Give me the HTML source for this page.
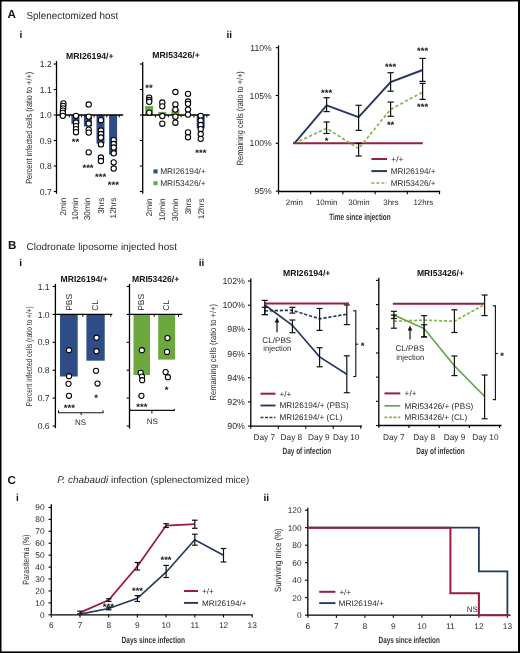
<!DOCTYPE html>
<html><head><meta charset="utf-8"><title>Figure</title>
<style>
html,body{margin:0;padding:0;background:#fff;}
svg{display:block;will-change:transform;}
text{font-family:"Liberation Sans",sans-serif;text-rendering:geometricPrecision;}
</style></head>
<body>
<svg width="520" height="653" viewBox="0 0 520 653" fill="#2a2a2a">
<rect x="0" y="0" width="520" height="653" fill="#fff"/>
<text x="7.60" y="17.60" font-size="11.6" font-weight="bold" fill="#111">A</text>
<text x="26.50" y="19.20" font-size="10.2" textLength="91.80" lengthAdjust="spacingAndGlyphs">Splenectomized host</text>
<text x="19.40" y="37.90" font-size="10" font-weight="bold" fill="#111">i</text>
<text x="89.80" y="58.60" font-size="8.7" font-weight="bold" text-anchor="middle" textLength="47.50" lengthAdjust="spacingAndGlyphs" fill="#111">MRI26194/+</text>
<line x1="56.50" y1="61.00" x2="56.50" y2="193.80" stroke="#000" stroke-width="1.3" stroke-linecap="butt"/>
<line x1="53.70" y1="64.00" x2="56.50" y2="64.00" stroke="#000" stroke-width="1.1" stroke-linecap="butt"/>
<text x="51.80" y="67.10" font-size="8.6" text-anchor="end">1.2</text>
<line x1="53.70" y1="89.50" x2="56.50" y2="89.50" stroke="#000" stroke-width="1.1" stroke-linecap="butt"/>
<text x="51.80" y="92.60" font-size="8.6" text-anchor="end">1.1</text>
<line x1="53.70" y1="115.00" x2="56.50" y2="115.00" stroke="#000" stroke-width="1.1" stroke-linecap="butt"/>
<text x="51.80" y="118.10" font-size="8.6" text-anchor="end">1.0</text>
<line x1="53.70" y1="140.50" x2="56.50" y2="140.50" stroke="#000" stroke-width="1.1" stroke-linecap="butt"/>
<text x="51.80" y="143.60" font-size="8.6" text-anchor="end">0.9</text>
<line x1="53.70" y1="166.00" x2="56.50" y2="166.00" stroke="#000" stroke-width="1.1" stroke-linecap="butt"/>
<text x="51.80" y="169.10" font-size="8.6" text-anchor="end">0.8</text>
<line x1="53.70" y1="191.50" x2="56.50" y2="191.50" stroke="#000" stroke-width="1.1" stroke-linecap="butt"/>
<text x="51.80" y="194.60" font-size="8.6" text-anchor="end">0.7</text>
<text transform="translate(32.00 127.80) rotate(-90)" font-size="9.0" text-anchor="middle" textLength="112.00" lengthAdjust="spacingAndGlyphs">Percent infected cells (ratio to +/+)</text>
<rect x="59.20" y="115.00" width="8.00" height="0.00" fill="#2e4c85"/>
<rect x="71.40" y="115.00" width="8.00" height="8.93" fill="#2e4c85"/>
<rect x="83.90" y="115.00" width="8.00" height="11.48" fill="#2e4c85"/>
<rect x="96.50" y="115.00" width="8.00" height="28.56" fill="#2e4c85"/>
<rect x="109.10" y="115.00" width="8.00" height="39.53" fill="#2e4c85"/>
<line x1="56.50" y1="115.00" x2="123.20" y2="115.00" stroke="#000" stroke-width="1.3" stroke-linecap="butt"/>
<line x1="69.30" y1="115.00" x2="69.30" y2="117.40" stroke="#000" stroke-width="1.0" stroke-linecap="butt"/>
<line x1="81.60" y1="115.00" x2="81.60" y2="117.40" stroke="#000" stroke-width="1.0" stroke-linecap="butt"/>
<line x1="94.20" y1="115.00" x2="94.20" y2="117.40" stroke="#000" stroke-width="1.0" stroke-linecap="butt"/>
<line x1="106.80" y1="115.00" x2="106.80" y2="117.40" stroke="#000" stroke-width="1.0" stroke-linecap="butt"/>
<line x1="119.30" y1="115.00" x2="119.30" y2="117.40" stroke="#000" stroke-width="1.0" stroke-linecap="butt"/>
<circle cx="63.40" cy="103.40" r="2.65" fill="#fff" stroke="#000" stroke-width="1.05"/>
<circle cx="63.20" cy="105.80" r="2.65" fill="#fff" stroke="#000" stroke-width="1.05"/>
<circle cx="63.20" cy="108.40" r="2.65" fill="#fff" stroke="#000" stroke-width="1.05"/>
<circle cx="62.90" cy="110.60" r="2.65" fill="#fff" stroke="#000" stroke-width="1.05"/>
<circle cx="62.80" cy="112.80" r="2.65" fill="#fff" stroke="#000" stroke-width="1.05"/>
<circle cx="62.80" cy="115.80" r="2.65" fill="#fff" stroke="#000" stroke-width="1.05"/>
<circle cx="76.00" cy="115.80" r="2.65" fill="#fff" stroke="#000" stroke-width="1.05"/>
<circle cx="76.00" cy="122.70" r="2.65" fill="#fff" stroke="#000" stroke-width="1.05"/>
<circle cx="76.00" cy="126.10" r="2.65" fill="#fff" stroke="#000" stroke-width="1.05"/>
<circle cx="76.00" cy="129.20" r="2.65" fill="#fff" stroke="#000" stroke-width="1.05"/>
<circle cx="76.00" cy="132.20" r="2.65" fill="#fff" stroke="#000" stroke-width="1.05"/>
<circle cx="88.70" cy="104.50" r="2.65" fill="#fff" stroke="#000" stroke-width="1.05"/>
<circle cx="88.70" cy="116.60" r="2.65" fill="#fff" stroke="#000" stroke-width="1.05"/>
<circle cx="88.70" cy="123.50" r="2.65" fill="#fff" stroke="#000" stroke-width="1.05"/>
<circle cx="88.70" cy="129.60" r="2.65" fill="#fff" stroke="#000" stroke-width="1.05"/>
<circle cx="88.70" cy="132.60" r="2.65" fill="#fff" stroke="#000" stroke-width="1.05"/>
<circle cx="88.70" cy="152.30" r="2.65" fill="#fff" stroke="#000" stroke-width="1.05"/>
<circle cx="100.90" cy="120.20" r="2.65" fill="#fff" stroke="#000" stroke-width="1.05"/>
<circle cx="100.90" cy="130.50" r="2.65" fill="#fff" stroke="#000" stroke-width="1.05"/>
<circle cx="100.90" cy="134.00" r="2.65" fill="#fff" stroke="#000" stroke-width="1.05"/>
<circle cx="100.90" cy="137.50" r="2.65" fill="#fff" stroke="#000" stroke-width="1.05"/>
<circle cx="100.90" cy="144.40" r="2.65" fill="#fff" stroke="#000" stroke-width="1.05"/>
<circle cx="100.90" cy="157.50" r="2.65" fill="#fff" stroke="#000" stroke-width="1.05"/>
<circle cx="100.90" cy="161.00" r="2.65" fill="#fff" stroke="#000" stroke-width="1.05"/>
<circle cx="113.70" cy="140.20" r="2.65" fill="#fff" stroke="#000" stroke-width="1.05"/>
<circle cx="113.70" cy="144.00" r="2.65" fill="#fff" stroke="#000" stroke-width="1.05"/>
<circle cx="113.70" cy="147.50" r="2.65" fill="#fff" stroke="#000" stroke-width="1.05"/>
<circle cx="113.70" cy="153.30" r="2.65" fill="#fff" stroke="#000" stroke-width="1.05"/>
<circle cx="113.70" cy="162.30" r="2.65" fill="#fff" stroke="#000" stroke-width="1.05"/>
<circle cx="113.70" cy="168.50" r="2.65" fill="#fff" stroke="#000" stroke-width="1.05"/>
<text x="75.50" y="145.42" font-size="9.5" font-weight="bold" text-anchor="middle" fill="#111">**</text>
<text x="88.00" y="170.82" font-size="9.5" font-weight="bold" text-anchor="middle" fill="#111">***</text>
<text x="100.60" y="179.82" font-size="9.5" font-weight="bold" text-anchor="middle" fill="#111">***</text>
<text x="113.30" y="187.72" font-size="9.5" font-weight="bold" text-anchor="middle" fill="#111">***</text>
<text transform="translate(66.40 197.50) rotate(-90)" font-size="8.4" text-anchor="end">2min</text>
<text transform="translate(78.30 197.50) rotate(-90)" font-size="8.4" text-anchor="end">10min</text>
<text transform="translate(90.40 197.50) rotate(-90)" font-size="8.4" text-anchor="end">30min</text>
<text transform="translate(103.60 197.50) rotate(-90)" font-size="8.4" text-anchor="end">3hrs</text>
<text transform="translate(116.00 197.50) rotate(-90)" font-size="8.4" text-anchor="end">12hrs</text>
<text x="176.00" y="58.40" font-size="8.7" font-weight="bold" text-anchor="middle" textLength="47.50" lengthAdjust="spacingAndGlyphs" fill="#111">MRI53426/+</text>
<line x1="142.70" y1="62.00" x2="142.70" y2="193.70" stroke="#000" stroke-width="1.3" stroke-linecap="butt"/>
<line x1="139.90" y1="64.00" x2="142.70" y2="64.00" stroke="#000" stroke-width="1.1" stroke-linecap="butt"/>
<line x1="139.90" y1="89.50" x2="142.70" y2="89.50" stroke="#000" stroke-width="1.1" stroke-linecap="butt"/>
<line x1="139.90" y1="115.00" x2="142.70" y2="115.00" stroke="#000" stroke-width="1.1" stroke-linecap="butt"/>
<line x1="139.90" y1="140.50" x2="142.70" y2="140.50" stroke="#000" stroke-width="1.1" stroke-linecap="butt"/>
<line x1="139.90" y1="166.00" x2="142.70" y2="166.00" stroke="#000" stroke-width="1.1" stroke-linecap="butt"/>
<line x1="139.90" y1="191.50" x2="142.70" y2="191.50" stroke="#000" stroke-width="1.1" stroke-linecap="butt"/>
<rect x="145.20" y="106.08" width="8.00" height="8.92" fill="#6ca83e"/>
<rect x="158.30" y="111.94" width="8.00" height="3.06" fill="#6ca83e"/>
<rect x="171.40" y="109.14" width="8.00" height="5.86" fill="#6ca83e"/>
<rect x="196.70" y="115.00" width="8.00" height="13.26" fill="#2e4c85"/>
<line x1="142.70" y1="115.00" x2="209.60" y2="115.00" stroke="#000" stroke-width="1.3" stroke-linecap="butt"/>
<line x1="155.40" y1="115.00" x2="155.40" y2="117.40" stroke="#000" stroke-width="1.0" stroke-linecap="butt"/>
<line x1="168.30" y1="115.00" x2="168.30" y2="117.40" stroke="#000" stroke-width="1.0" stroke-linecap="butt"/>
<line x1="181.10" y1="115.00" x2="181.10" y2="117.40" stroke="#000" stroke-width="1.0" stroke-linecap="butt"/>
<line x1="193.90" y1="115.00" x2="193.90" y2="117.40" stroke="#000" stroke-width="1.0" stroke-linecap="butt"/>
<line x1="206.80" y1="115.00" x2="206.80" y2="117.40" stroke="#000" stroke-width="1.0" stroke-linecap="butt"/>
<circle cx="149.20" cy="97.70" r="2.65" fill="#fff" stroke="#000" stroke-width="1.05"/>
<circle cx="149.20" cy="100.00" r="2.65" fill="#fff" stroke="#000" stroke-width="1.05"/>
<circle cx="149.20" cy="101.80" r="2.65" fill="#fff" stroke="#000" stroke-width="1.05"/>
<circle cx="149.20" cy="112.70" r="2.65" fill="#fff" stroke="#000" stroke-width="1.05"/>
<circle cx="162.30" cy="102.50" r="2.65" fill="#fff" stroke="#000" stroke-width="1.05"/>
<circle cx="162.30" cy="106.30" r="2.65" fill="#fff" stroke="#000" stroke-width="1.05"/>
<circle cx="162.30" cy="116.00" r="2.65" fill="#fff" stroke="#000" stroke-width="1.05"/>
<circle cx="162.30" cy="123.70" r="2.65" fill="#fff" stroke="#000" stroke-width="1.05"/>
<circle cx="175.40" cy="92.00" r="2.65" fill="#fff" stroke="#000" stroke-width="1.05"/>
<circle cx="175.40" cy="104.40" r="2.65" fill="#fff" stroke="#000" stroke-width="1.05"/>
<circle cx="175.40" cy="109.60" r="2.65" fill="#fff" stroke="#000" stroke-width="1.05"/>
<circle cx="175.40" cy="116.70" r="2.65" fill="#fff" stroke="#000" stroke-width="1.05"/>
<circle cx="175.40" cy="122.70" r="2.65" fill="#fff" stroke="#000" stroke-width="1.05"/>
<circle cx="188.00" cy="93.80" r="2.65" fill="#fff" stroke="#000" stroke-width="1.05"/>
<circle cx="188.00" cy="101.50" r="2.65" fill="#fff" stroke="#000" stroke-width="1.05"/>
<circle cx="188.00" cy="103.80" r="2.65" fill="#fff" stroke="#000" stroke-width="1.05"/>
<circle cx="188.00" cy="109.60" r="2.65" fill="#fff" stroke="#000" stroke-width="1.05"/>
<circle cx="188.00" cy="114.60" r="2.65" fill="#fff" stroke="#000" stroke-width="1.05"/>
<circle cx="188.00" cy="132.30" r="2.65" fill="#fff" stroke="#000" stroke-width="1.05"/>
<circle cx="188.00" cy="137.30" r="2.65" fill="#fff" stroke="#000" stroke-width="1.05"/>
<circle cx="200.70" cy="115.80" r="2.65" fill="#fff" stroke="#000" stroke-width="1.05"/>
<circle cx="200.70" cy="120.60" r="2.65" fill="#fff" stroke="#000" stroke-width="1.05"/>
<circle cx="200.70" cy="125.00" r="2.65" fill="#fff" stroke="#000" stroke-width="1.05"/>
<circle cx="200.70" cy="129.20" r="2.65" fill="#fff" stroke="#000" stroke-width="1.05"/>
<circle cx="200.70" cy="134.00" r="2.65" fill="#fff" stroke="#000" stroke-width="1.05"/>
<circle cx="200.70" cy="138.80" r="2.65" fill="#fff" stroke="#000" stroke-width="1.05"/>
<text x="149.00" y="91.42" font-size="9.5" font-weight="bold" text-anchor="middle" fill="#111">**</text>
<text x="200.80" y="156.03" font-size="9.5" font-weight="bold" text-anchor="middle" fill="#111">***</text>
<rect x="153.40" y="169.40" width="4.20" height="4.00" fill="#2e4c85"/>
<text x="160.20" y="174.00" font-size="8.3" textLength="45.50" lengthAdjust="spacingAndGlyphs">MRI26194/+</text>
<rect x="153.40" y="181.20" width="4.20" height="4.00" fill="#6ca83e"/>
<text x="160.20" y="185.80" font-size="8.3" textLength="45.50" lengthAdjust="spacingAndGlyphs">MRI53426/+</text>
<text transform="translate(152.20 198.30) rotate(-90)" font-size="8.4" text-anchor="end">2min</text>
<text transform="translate(165.30 198.30) rotate(-90)" font-size="8.4" text-anchor="end">10min</text>
<text transform="translate(178.40 198.30) rotate(-90)" font-size="8.4" text-anchor="end">30min</text>
<text transform="translate(191.00 198.30) rotate(-90)" font-size="8.4" text-anchor="end">3hrs</text>
<text transform="translate(203.70 198.30) rotate(-90)" font-size="8.4" text-anchor="end">12hrs</text>
<text x="226.60" y="38.00" font-size="10" font-weight="bold" fill="#111">ii</text>
<line x1="278.50" y1="45.40" x2="278.50" y2="191.50" stroke="#000" stroke-width="1.3" stroke-linecap="butt"/>
<line x1="275.70" y1="47.70" x2="278.50" y2="47.70" stroke="#000" stroke-width="1.1" stroke-linecap="butt"/>
<text x="271.60" y="50.70" font-size="8.6" text-anchor="end">110%</text>
<line x1="275.70" y1="95.50" x2="278.50" y2="95.50" stroke="#000" stroke-width="1.1" stroke-linecap="butt"/>
<text x="271.60" y="98.50" font-size="8.6" text-anchor="end">105%</text>
<line x1="275.70" y1="143.30" x2="278.50" y2="143.30" stroke="#000" stroke-width="1.1" stroke-linecap="butt"/>
<text x="271.60" y="146.30" font-size="8.6" text-anchor="end">100%</text>
<line x1="275.70" y1="191.10" x2="278.50" y2="191.10" stroke="#000" stroke-width="1.1" stroke-linecap="butt"/>
<text x="271.60" y="194.10" font-size="8.6" text-anchor="end">95%</text>
<text transform="translate(243.20 118.20) rotate(-90)" font-size="9.0" text-anchor="middle" textLength="94.00" lengthAdjust="spacingAndGlyphs">Remaining cells (ratio to +/+)</text>
<line x1="278.50" y1="191.50" x2="440.20" y2="191.50" stroke="#000" stroke-width="1.3" stroke-linecap="butt"/>
<line x1="278.50" y1="191.50" x2="278.50" y2="194.20" stroke="#000" stroke-width="1.1" stroke-linecap="butt"/>
<line x1="310.70" y1="191.50" x2="310.70" y2="194.20" stroke="#000" stroke-width="1.1" stroke-linecap="butt"/>
<line x1="342.90" y1="191.50" x2="342.90" y2="194.20" stroke="#000" stroke-width="1.1" stroke-linecap="butt"/>
<line x1="375.10" y1="191.50" x2="375.10" y2="194.20" stroke="#000" stroke-width="1.1" stroke-linecap="butt"/>
<line x1="407.30" y1="191.50" x2="407.30" y2="194.20" stroke="#000" stroke-width="1.1" stroke-linecap="butt"/>
<line x1="439.50" y1="191.50" x2="439.50" y2="194.20" stroke="#000" stroke-width="1.1" stroke-linecap="butt"/>
<text x="294.40" y="204.80" font-size="7.9" text-anchor="middle">2min</text>
<text x="326.70" y="204.80" font-size="7.9" text-anchor="middle">10min</text>
<text x="359.00" y="204.80" font-size="7.9" text-anchor="middle">30min</text>
<text x="391.00" y="204.80" font-size="7.9" text-anchor="middle">3hrs</text>
<text x="423.30" y="204.80" font-size="7.9" text-anchor="middle">12hrs</text>
<text x="360.00" y="219.50" font-size="9.2" font-weight="bold" text-anchor="middle" textLength="61.50" lengthAdjust="spacingAndGlyphs" fill="#333">Time since injection</text>
<line x1="293.00" y1="143.30" x2="422.80" y2="143.30" stroke="#9a1c3e" stroke-width="2.0" stroke-linecap="butt"/>
<polyline points="294.40,143.30 326.60,128.30 358.60,148.60 390.60,109.40 422.60,92.10" fill="none" stroke="#88b352" stroke-width="1.7" stroke-dasharray="3.2,2.2" stroke-linejoin="miter"/>
<polyline points="294.40,143.30 326.60,105.30 358.60,117.10 390.60,82.10 422.60,70.00" fill="none" stroke="#26395f" stroke-width="1.9" stroke-linejoin="miter"/>
<line x1="326.60" y1="97.70" x2="326.60" y2="111.60" stroke="#111" stroke-width="1.2" stroke-linecap="butt"/>
<line x1="323.50" y1="97.70" x2="329.70" y2="97.70" stroke="#111" stroke-width="1.2" stroke-linecap="butt"/>
<line x1="323.50" y1="111.60" x2="329.70" y2="111.60" stroke="#111" stroke-width="1.2" stroke-linecap="butt"/>
<line x1="358.60" y1="105.30" x2="358.60" y2="130.40" stroke="#111" stroke-width="1.2" stroke-linecap="butt"/>
<line x1="355.50" y1="105.30" x2="361.70" y2="105.30" stroke="#111" stroke-width="1.2" stroke-linecap="butt"/>
<line x1="355.50" y1="130.40" x2="361.70" y2="130.40" stroke="#111" stroke-width="1.2" stroke-linecap="butt"/>
<line x1="390.60" y1="72.70" x2="390.60" y2="91.20" stroke="#111" stroke-width="1.2" stroke-linecap="butt"/>
<line x1="387.50" y1="72.70" x2="393.70" y2="72.70" stroke="#111" stroke-width="1.2" stroke-linecap="butt"/>
<line x1="387.50" y1="91.20" x2="393.70" y2="91.20" stroke="#111" stroke-width="1.2" stroke-linecap="butt"/>
<line x1="422.60" y1="58.40" x2="422.60" y2="81.40" stroke="#111" stroke-width="1.2" stroke-linecap="butt"/>
<line x1="419.50" y1="58.40" x2="425.70" y2="58.40" stroke="#111" stroke-width="1.2" stroke-linecap="butt"/>
<line x1="419.50" y1="81.40" x2="425.70" y2="81.40" stroke="#111" stroke-width="1.2" stroke-linecap="butt"/>
<line x1="326.60" y1="122.00" x2="326.60" y2="133.50" stroke="#111" stroke-width="1.2" stroke-linecap="butt"/>
<line x1="323.50" y1="122.00" x2="329.70" y2="122.00" stroke="#111" stroke-width="1.2" stroke-linecap="butt"/>
<line x1="323.50" y1="133.50" x2="329.70" y2="133.50" stroke="#111" stroke-width="1.2" stroke-linecap="butt"/>
<line x1="358.60" y1="143.30" x2="358.60" y2="156.00" stroke="#111" stroke-width="1.2" stroke-linecap="butt"/>
<line x1="355.50" y1="143.30" x2="361.70" y2="143.30" stroke="#111" stroke-width="1.2" stroke-linecap="butt"/>
<line x1="355.50" y1="156.00" x2="361.70" y2="156.00" stroke="#111" stroke-width="1.2" stroke-linecap="butt"/>
<line x1="390.60" y1="102.10" x2="390.60" y2="116.30" stroke="#111" stroke-width="1.2" stroke-linecap="butt"/>
<line x1="387.50" y1="102.10" x2="393.70" y2="102.10" stroke="#111" stroke-width="1.2" stroke-linecap="butt"/>
<line x1="387.50" y1="116.30" x2="393.70" y2="116.30" stroke="#111" stroke-width="1.2" stroke-linecap="butt"/>
<line x1="422.60" y1="83.40" x2="422.60" y2="99.40" stroke="#111" stroke-width="1.2" stroke-linecap="butt"/>
<line x1="419.50" y1="83.40" x2="425.70" y2="83.40" stroke="#111" stroke-width="1.2" stroke-linecap="butt"/>
<line x1="419.50" y1="99.40" x2="425.70" y2="99.40" stroke="#111" stroke-width="1.2" stroke-linecap="butt"/>
<text x="326.60" y="96.32" font-size="9.5" font-weight="bold" text-anchor="middle" fill="#111">***</text>
<text x="326.60" y="144.12" font-size="9.5" font-weight="bold" text-anchor="middle" fill="#111">*</text>
<text x="390.60" y="70.02" font-size="9.5" font-weight="bold" text-anchor="middle" fill="#111">***</text>
<text x="390.60" y="127.62" font-size="9.5" font-weight="bold" text-anchor="middle" fill="#111">**</text>
<text x="422.60" y="54.02" font-size="9.5" font-weight="bold" text-anchor="middle" fill="#111">***</text>
<text x="422.60" y="110.22" font-size="9.5" font-weight="bold" text-anchor="middle" fill="#111">***</text>
<line x1="371.40" y1="159.00" x2="387.00" y2="159.00" stroke="#9a1c3e" stroke-width="2.0" stroke-linecap="butt"/>
<text x="391.30" y="162.00" font-size="8.3">+/+</text>
<line x1="371.40" y1="171.10" x2="387.00" y2="171.10" stroke="#26395f" stroke-width="2.0" stroke-linecap="butt"/>
<text x="390.80" y="174.10" font-size="8.3" textLength="44.70" lengthAdjust="spacingAndGlyphs">MRI26194/+</text>
<line x1="371.40" y1="183.00" x2="387.00" y2="183.00" stroke="#88b352" stroke-width="1.7" stroke-dasharray="3,2" stroke-linecap="butt"/>
<text x="390.80" y="186.00" font-size="8.3" textLength="44.70" lengthAdjust="spacingAndGlyphs">MRI53426/+</text>
<text x="7.90" y="249.30" font-size="11.6" font-weight="bold" fill="#111">B</text>
<text x="26.50" y="250.20" font-size="10" textLength="150.50" lengthAdjust="spacingAndGlyphs">Clodronate liposome injected host</text>
<text x="19.20" y="265.60" font-size="10" font-weight="bold" fill="#111">i</text>
<text x="84.10" y="281.60" font-size="8.7" font-weight="bold" text-anchor="middle" textLength="47.20" lengthAdjust="spacingAndGlyphs" fill="#111">MRI26194/+</text>
<line x1="55.40" y1="283.80" x2="55.40" y2="428.20" stroke="#000" stroke-width="1.3" stroke-linecap="butt"/>
<line x1="52.60" y1="286.50" x2="55.40" y2="286.50" stroke="#000" stroke-width="1.1" stroke-linecap="butt"/>
<text x="49.60" y="289.60" font-size="8.6" text-anchor="end">1.1</text>
<line x1="52.60" y1="314.40" x2="55.40" y2="314.40" stroke="#000" stroke-width="1.1" stroke-linecap="butt"/>
<text x="49.60" y="317.50" font-size="8.6" text-anchor="end">1.0</text>
<line x1="52.60" y1="342.30" x2="55.40" y2="342.30" stroke="#000" stroke-width="1.1" stroke-linecap="butt"/>
<text x="49.60" y="345.40" font-size="8.6" text-anchor="end">0.9</text>
<line x1="52.60" y1="370.20" x2="55.40" y2="370.20" stroke="#000" stroke-width="1.1" stroke-linecap="butt"/>
<text x="49.60" y="373.30" font-size="8.6" text-anchor="end">0.8</text>
<line x1="52.60" y1="398.10" x2="55.40" y2="398.10" stroke="#000" stroke-width="1.1" stroke-linecap="butt"/>
<text x="49.60" y="401.20" font-size="8.6" text-anchor="end">0.7</text>
<line x1="52.60" y1="426.00" x2="55.40" y2="426.00" stroke="#000" stroke-width="1.1" stroke-linecap="butt"/>
<text x="49.60" y="429.10" font-size="8.6" text-anchor="end">0.6</text>
<text transform="translate(31.60 356.20) rotate(-90)" font-size="8.6" text-anchor="middle" textLength="100.00" lengthAdjust="spacingAndGlyphs">Percent infected cells (ratio to +/+)</text>
<rect x="60.00" y="314.40" width="17.70" height="62.10" fill="#2e4c85"/>
<rect x="86.40" y="314.40" width="18.30" height="46.30" fill="#2e4c85"/>
<line x1="55.40" y1="314.40" x2="112.30" y2="314.40" stroke="#000" stroke-width="1.3" stroke-linecap="butt"/>
<line x1="82.80" y1="314.40" x2="82.80" y2="316.80" stroke="#000" stroke-width="1.0" stroke-linecap="butt"/>
<line x1="110.80" y1="314.40" x2="110.80" y2="316.80" stroke="#000" stroke-width="1.0" stroke-linecap="butt"/>
<circle cx="69.00" cy="350.20" r="2.6" fill="#fff" stroke="#000" stroke-width="1.05"/>
<circle cx="69.00" cy="376.20" r="2.6" fill="#fff" stroke="#000" stroke-width="1.05"/>
<circle cx="68.50" cy="383.80" r="2.6" fill="#fff" stroke="#000" stroke-width="1.05"/>
<circle cx="69.00" cy="395.80" r="2.6" fill="#fff" stroke="#000" stroke-width="1.05"/>
<circle cx="96.50" cy="337.70" r="2.6" fill="#fff" stroke="#000" stroke-width="1.05"/>
<circle cx="96.50" cy="351.20" r="2.6" fill="#fff" stroke="#000" stroke-width="1.05"/>
<circle cx="96.00" cy="370.80" r="2.6" fill="#fff" stroke="#000" stroke-width="1.05"/>
<circle cx="97.50" cy="383.50" r="2.6" fill="#fff" stroke="#000" stroke-width="1.05"/>
<text transform="translate(71.50 310.80) rotate(-90)" font-size="8.5">PBS</text>
<text transform="translate(98.40 310.80) rotate(-90)" font-size="8.5">CL</text>
<text x="69.30" y="411.23" font-size="9.5" font-weight="bold" text-anchor="middle" fill="#111">***</text>
<text x="96.20" y="401.03" font-size="9.5" font-weight="bold" text-anchor="middle" fill="#111">*</text>
<line x1="58.50" y1="410.30" x2="58.50" y2="412.70" stroke="#111" stroke-width="1.0" stroke-linecap="butt"/>
<line x1="103.00" y1="410.30" x2="103.00" y2="412.70" stroke="#111" stroke-width="1.0" stroke-linecap="butt"/>
<line x1="58.00" y1="412.70" x2="103.50" y2="412.70" stroke="#111" stroke-width="1.1" stroke-linecap="butt"/>
<line x1="81.20" y1="412.70" x2="81.20" y2="415.00" stroke="#111" stroke-width="1.0" stroke-linecap="butt"/>
<text x="80.50" y="425.30" font-size="8" text-anchor="middle">NS</text>
<text x="155.60" y="281.60" font-size="8.7" font-weight="bold" text-anchor="middle" textLength="47.20" lengthAdjust="spacingAndGlyphs" fill="#111">MRI53426/+</text>
<line x1="129.50" y1="283.80" x2="129.50" y2="428.60" stroke="#000" stroke-width="1.3" stroke-linecap="butt"/>
<line x1="126.70" y1="286.50" x2="129.50" y2="286.50" stroke="#000" stroke-width="1.1" stroke-linecap="butt"/>
<line x1="126.70" y1="314.40" x2="129.50" y2="314.40" stroke="#000" stroke-width="1.1" stroke-linecap="butt"/>
<line x1="126.70" y1="342.30" x2="129.50" y2="342.30" stroke="#000" stroke-width="1.1" stroke-linecap="butt"/>
<line x1="126.70" y1="370.20" x2="129.50" y2="370.20" stroke="#000" stroke-width="1.1" stroke-linecap="butt"/>
<line x1="126.70" y1="398.10" x2="129.50" y2="398.10" stroke="#000" stroke-width="1.1" stroke-linecap="butt"/>
<line x1="126.70" y1="426.00" x2="129.50" y2="426.00" stroke="#000" stroke-width="1.1" stroke-linecap="butt"/>
<rect x="133.50" y="314.40" width="16.50" height="60.60" fill="#6ca83e"/>
<rect x="158.20" y="314.40" width="16.90" height="45.20" fill="#6ca83e"/>
<line x1="129.50" y1="314.40" x2="182.30" y2="314.40" stroke="#000" stroke-width="1.3" stroke-linecap="butt"/>
<line x1="154.20" y1="314.40" x2="154.20" y2="316.80" stroke="#000" stroke-width="1.0" stroke-linecap="butt"/>
<line x1="178.50" y1="314.40" x2="178.50" y2="316.80" stroke="#000" stroke-width="1.0" stroke-linecap="butt"/>
<circle cx="141.90" cy="350.20" r="2.6" fill="#fff" stroke="#000" stroke-width="1.05"/>
<circle cx="140.70" cy="372.90" r="2.6" fill="#fff" stroke="#000" stroke-width="1.05"/>
<circle cx="142.00" cy="376.50" r="2.6" fill="#fff" stroke="#000" stroke-width="1.05"/>
<circle cx="142.20" cy="380.20" r="2.6" fill="#fff" stroke="#000" stroke-width="1.05"/>
<circle cx="141.40" cy="395.80" r="2.6" fill="#fff" stroke="#000" stroke-width="1.05"/>
<circle cx="167.50" cy="338.00" r="2.6" fill="#fff" stroke="#000" stroke-width="1.05"/>
<circle cx="167.00" cy="351.90" r="2.6" fill="#fff" stroke="#000" stroke-width="1.05"/>
<circle cx="165.60" cy="372.10" r="2.6" fill="#fff" stroke="#000" stroke-width="1.05"/>
<circle cx="167.90" cy="377.20" r="2.6" fill="#fff" stroke="#000" stroke-width="1.05"/>
<text transform="translate(143.80 310.80) rotate(-90)" font-size="8.5">PBS</text>
<text transform="translate(169.10 310.80) rotate(-90)" font-size="8.5">CL</text>
<text x="141.80" y="410.23" font-size="9.5" font-weight="bold" text-anchor="middle" fill="#111">***</text>
<text x="166.70" y="393.12" font-size="9.5" font-weight="bold" text-anchor="middle" fill="#111">*</text>
<line x1="130.00" y1="408.90" x2="130.00" y2="410.40" stroke="#111" stroke-width="1.0" stroke-linecap="butt"/>
<line x1="174.40" y1="408.90" x2="174.40" y2="410.40" stroke="#111" stroke-width="1.0" stroke-linecap="butt"/>
<line x1="129.80" y1="410.40" x2="174.80" y2="410.40" stroke="#111" stroke-width="1.1" stroke-linecap="butt"/>
<line x1="151.90" y1="410.40" x2="151.90" y2="413.50" stroke="#111" stroke-width="1.0" stroke-linecap="butt"/>
<text x="152.20" y="423.70" font-size="8" text-anchor="middle">NS</text>
<text x="198.80" y="265.60" font-size="10" font-weight="bold" fill="#111">ii</text>
<text x="306.70" y="275.80" font-size="8.7" font-weight="bold" text-anchor="middle" textLength="47.40" lengthAdjust="spacingAndGlyphs" fill="#111">MRI26194/+</text>
<line x1="250.80" y1="278.40" x2="250.80" y2="426.20" stroke="#000" stroke-width="1.3" stroke-linecap="butt"/>
<line x1="248.00" y1="281.02" x2="250.80" y2="281.02" stroke="#000" stroke-width="1.1" stroke-linecap="butt"/>
<text x="244.90" y="284.12" font-size="8.8" text-anchor="end">102%</text>
<line x1="248.00" y1="305.20" x2="250.80" y2="305.20" stroke="#000" stroke-width="1.1" stroke-linecap="butt"/>
<text x="244.90" y="308.30" font-size="8.8" text-anchor="end">100%</text>
<line x1="248.00" y1="329.38" x2="250.80" y2="329.38" stroke="#000" stroke-width="1.1" stroke-linecap="butt"/>
<text x="244.90" y="332.48" font-size="8.8" text-anchor="end">98%</text>
<line x1="248.00" y1="353.56" x2="250.80" y2="353.56" stroke="#000" stroke-width="1.1" stroke-linecap="butt"/>
<text x="244.90" y="356.66" font-size="8.8" text-anchor="end">96%</text>
<line x1="248.00" y1="377.74" x2="250.80" y2="377.74" stroke="#000" stroke-width="1.1" stroke-linecap="butt"/>
<text x="244.90" y="380.84" font-size="8.8" text-anchor="end">94%</text>
<line x1="248.00" y1="401.92" x2="250.80" y2="401.92" stroke="#000" stroke-width="1.1" stroke-linecap="butt"/>
<text x="244.90" y="405.02" font-size="8.8" text-anchor="end">92%</text>
<line x1="248.00" y1="426.10" x2="250.80" y2="426.10" stroke="#000" stroke-width="1.1" stroke-linecap="butt"/>
<text x="244.90" y="429.20" font-size="8.8" text-anchor="end">90%</text>
<text transform="translate(216.20 352.20) rotate(-90)" font-size="8.8" text-anchor="middle" textLength="96.50" lengthAdjust="spacingAndGlyphs">Remaining cells (ratio to +/+)</text>
<line x1="250.80" y1="426.10" x2="362.00" y2="426.10" stroke="#000" stroke-width="1.3" stroke-linecap="butt"/>
<line x1="250.80" y1="426.10" x2="250.80" y2="428.70" stroke="#000" stroke-width="1.1" stroke-linecap="butt"/>
<line x1="278.30" y1="426.10" x2="278.30" y2="428.70" stroke="#000" stroke-width="1.1" stroke-linecap="butt"/>
<line x1="305.80" y1="426.10" x2="305.80" y2="428.70" stroke="#000" stroke-width="1.1" stroke-linecap="butt"/>
<line x1="333.30" y1="426.10" x2="333.30" y2="428.70" stroke="#000" stroke-width="1.1" stroke-linecap="butt"/>
<line x1="360.80" y1="426.10" x2="360.80" y2="428.70" stroke="#000" stroke-width="1.1" stroke-linecap="butt"/>
<text x="264.30" y="439.90" font-size="8.3" text-anchor="middle">Day 7</text>
<text x="291.40" y="439.90" font-size="8.3" text-anchor="middle">Day 8</text>
<text x="318.90" y="439.90" font-size="8.3" text-anchor="middle">Day 9</text>
<text x="346.20" y="439.90" font-size="8.3" text-anchor="middle">Day 10</text>
<text x="306.80" y="454.00" font-size="9.2" font-weight="bold" text-anchor="middle" textLength="48.70" lengthAdjust="spacingAndGlyphs" fill="#333">Day of infection</text>
<line x1="264.80" y1="303.60" x2="349.00" y2="303.60" stroke="#9a1c3e" stroke-width="2.0" stroke-linecap="butt"/>
<polyline points="264.80,310.80 292.40,310.30 319.60,318.80 346.80,314.20" fill="none" stroke="#26395f" stroke-width="1.7" stroke-dasharray="3.2,1.8" stroke-linejoin="miter"/>
<polyline points="264.80,305.00 292.40,325.30 319.60,356.90 346.80,374.20" fill="none" stroke="#26395f" stroke-width="1.7" stroke-linejoin="miter"/>
<line x1="264.80" y1="300.40" x2="264.80" y2="314.60" stroke="#111" stroke-width="1.2" stroke-linecap="butt"/>
<line x1="261.80" y1="300.40" x2="267.80" y2="300.40" stroke="#111" stroke-width="1.2" stroke-linecap="butt"/>
<line x1="261.80" y1="314.60" x2="267.80" y2="314.60" stroke="#111" stroke-width="1.2" stroke-linecap="butt"/>
<line x1="264.80" y1="307.30" x2="264.80" y2="314.60" stroke="#111" stroke-width="1.2" stroke-linecap="butt"/>
<line x1="261.80" y1="307.30" x2="267.80" y2="307.30" stroke="#111" stroke-width="1.2" stroke-linecap="butt"/>
<line x1="261.80" y1="314.60" x2="267.80" y2="314.60" stroke="#111" stroke-width="1.2" stroke-linecap="butt"/>
<line x1="292.40" y1="307.30" x2="292.40" y2="313.10" stroke="#111" stroke-width="1.2" stroke-linecap="butt"/>
<line x1="289.40" y1="307.30" x2="295.40" y2="307.30" stroke="#111" stroke-width="1.2" stroke-linecap="butt"/>
<line x1="289.40" y1="313.10" x2="295.40" y2="313.10" stroke="#111" stroke-width="1.2" stroke-linecap="butt"/>
<line x1="292.40" y1="320.00" x2="292.40" y2="332.70" stroke="#111" stroke-width="1.2" stroke-linecap="butt"/>
<line x1="289.40" y1="320.00" x2="295.40" y2="320.00" stroke="#111" stroke-width="1.2" stroke-linecap="butt"/>
<line x1="289.40" y1="332.70" x2="295.40" y2="332.70" stroke="#111" stroke-width="1.2" stroke-linecap="butt"/>
<line x1="319.60" y1="308.50" x2="319.60" y2="330.40" stroke="#111" stroke-width="1.2" stroke-linecap="butt"/>
<line x1="316.60" y1="308.50" x2="322.60" y2="308.50" stroke="#111" stroke-width="1.2" stroke-linecap="butt"/>
<line x1="316.60" y1="330.40" x2="322.60" y2="330.40" stroke="#111" stroke-width="1.2" stroke-linecap="butt"/>
<line x1="319.60" y1="347.70" x2="319.60" y2="366.80" stroke="#111" stroke-width="1.2" stroke-linecap="butt"/>
<line x1="316.60" y1="347.70" x2="322.60" y2="347.70" stroke="#111" stroke-width="1.2" stroke-linecap="butt"/>
<line x1="316.60" y1="366.80" x2="322.60" y2="366.80" stroke="#111" stroke-width="1.2" stroke-linecap="butt"/>
<line x1="346.80" y1="305.00" x2="346.80" y2="324.60" stroke="#111" stroke-width="1.2" stroke-linecap="butt"/>
<line x1="343.80" y1="305.00" x2="349.80" y2="305.00" stroke="#111" stroke-width="1.2" stroke-linecap="butt"/>
<line x1="343.80" y1="324.60" x2="349.80" y2="324.60" stroke="#111" stroke-width="1.2" stroke-linecap="butt"/>
<line x1="346.80" y1="355.80" x2="346.80" y2="392.70" stroke="#111" stroke-width="1.2" stroke-linecap="butt"/>
<line x1="343.80" y1="355.80" x2="349.80" y2="355.80" stroke="#111" stroke-width="1.2" stroke-linecap="butt"/>
<line x1="343.80" y1="392.70" x2="349.80" y2="392.70" stroke="#111" stroke-width="1.2" stroke-linecap="butt"/>
<line x1="277.00" y1="332.20" x2="277.00" y2="320.50" stroke="#111" stroke-width="1.2" stroke-linecap="butt"/>
<path d="M277.0,317.6 L274.7,322.6 L279.3,322.6 Z" fill="#111"/>
<text x="276.80" y="342.90" font-size="8.1" text-anchor="middle" textLength="28.90" lengthAdjust="spacingAndGlyphs">CL/PBS</text>
<text x="277.30" y="351.00" font-size="8.1" text-anchor="middle" textLength="27.90" lengthAdjust="spacingAndGlyphs">injection</text>
<line x1="353.20" y1="310.80" x2="355.80" y2="310.80" stroke="#111" stroke-width="1.1" stroke-linecap="butt"/>
<line x1="353.20" y1="376.50" x2="355.80" y2="376.50" stroke="#111" stroke-width="1.1" stroke-linecap="butt"/>
<line x1="355.80" y1="310.20" x2="355.80" y2="377.10" stroke="#111" stroke-width="1.1" stroke-linecap="butt"/>
<line x1="355.80" y1="344.20" x2="358.20" y2="344.20" stroke="#111" stroke-width="1.1" stroke-linecap="butt"/>
<text x="362.70" y="348.73" font-size="9.5" font-weight="bold" text-anchor="middle" fill="#111">*</text>
<line x1="260.50" y1="393.70" x2="275.50" y2="393.70" stroke="#9a1c3e" stroke-width="2.0" stroke-linecap="butt"/>
<text x="279.50" y="396.60" font-size="8.2">+/+</text>
<line x1="260.50" y1="405.50" x2="275.50" y2="405.50" stroke="#26395f" stroke-width="1.9" stroke-linecap="butt"/>
<text x="279.50" y="408.40" font-size="8.2" textLength="69.20" lengthAdjust="spacingAndGlyphs">MRI26194/+ (PBS)</text>
<line x1="260.50" y1="417.50" x2="275.50" y2="417.50" stroke="#26395f" stroke-width="1.7" stroke-dasharray="3,1.5" stroke-linecap="butt"/>
<text x="279.50" y="420.40" font-size="8.2" textLength="63.00" lengthAdjust="spacingAndGlyphs">MRI26194/+ (CL)</text>
<text x="440.50" y="275.60" font-size="8.7" font-weight="bold" text-anchor="middle" textLength="47.10" lengthAdjust="spacingAndGlyphs" fill="#111">MRI53426/+</text>
<line x1="378.80" y1="277.80" x2="378.80" y2="425.50" stroke="#000" stroke-width="1.3" stroke-linecap="butt"/>
<line x1="376.00" y1="280.42" x2="378.80" y2="280.42" stroke="#000" stroke-width="1.1" stroke-linecap="butt"/>
<line x1="376.00" y1="304.60" x2="378.80" y2="304.60" stroke="#000" stroke-width="1.1" stroke-linecap="butt"/>
<line x1="376.00" y1="328.78" x2="378.80" y2="328.78" stroke="#000" stroke-width="1.1" stroke-linecap="butt"/>
<line x1="376.00" y1="352.96" x2="378.80" y2="352.96" stroke="#000" stroke-width="1.1" stroke-linecap="butt"/>
<line x1="376.00" y1="377.14" x2="378.80" y2="377.14" stroke="#000" stroke-width="1.1" stroke-linecap="butt"/>
<line x1="376.00" y1="401.32" x2="378.80" y2="401.32" stroke="#000" stroke-width="1.1" stroke-linecap="butt"/>
<line x1="376.00" y1="425.50" x2="378.80" y2="425.50" stroke="#000" stroke-width="1.1" stroke-linecap="butt"/>
<line x1="378.80" y1="425.50" x2="501.50" y2="425.50" stroke="#000" stroke-width="1.3" stroke-linecap="butt"/>
<line x1="378.80" y1="425.50" x2="378.80" y2="428.10" stroke="#000" stroke-width="1.1" stroke-linecap="butt"/>
<line x1="409.00" y1="425.50" x2="409.00" y2="428.10" stroke="#000" stroke-width="1.1" stroke-linecap="butt"/>
<line x1="439.20" y1="425.50" x2="439.20" y2="428.10" stroke="#000" stroke-width="1.1" stroke-linecap="butt"/>
<line x1="469.40" y1="425.50" x2="469.40" y2="428.10" stroke="#000" stroke-width="1.1" stroke-linecap="butt"/>
<line x1="499.60" y1="425.50" x2="499.60" y2="428.10" stroke="#000" stroke-width="1.1" stroke-linecap="butt"/>
<text x="393.80" y="439.60" font-size="8.3" text-anchor="middle">Day 7</text>
<text x="424.20" y="439.60" font-size="8.3" text-anchor="middle">Day 8</text>
<text x="454.50" y="439.60" font-size="8.3" text-anchor="middle">Day 9</text>
<text x="485.40" y="439.60" font-size="8.3" text-anchor="middle">Day 10</text>
<text x="440.50" y="454.00" font-size="9.2" font-weight="bold" text-anchor="middle" textLength="48.30" lengthAdjust="spacingAndGlyphs" fill="#333">Day of infection</text>
<line x1="392.80" y1="303.80" x2="485.00" y2="303.80" stroke="#9a1c3e" stroke-width="2.0" stroke-linecap="butt"/>
<polyline points="393.90,321.20 424.10,320.20 454.40,321.20 484.60,304.40" fill="none" stroke="#88b352" stroke-width="1.7" stroke-dasharray="3.2,1.8" stroke-linejoin="miter"/>
<polyline points="393.90,315.00 424.10,328.60 454.40,365.80 484.60,396.50" fill="none" stroke="#64a03e" stroke-width="1.6" stroke-linejoin="miter"/>
<line x1="393.90" y1="311.30" x2="393.90" y2="328.20" stroke="#111" stroke-width="1.2" stroke-linecap="butt"/>
<line x1="390.90" y1="311.30" x2="396.90" y2="311.30" stroke="#111" stroke-width="1.2" stroke-linecap="butt"/>
<line x1="390.90" y1="328.20" x2="396.90" y2="328.20" stroke="#111" stroke-width="1.2" stroke-linecap="butt"/>
<line x1="393.90" y1="315.00" x2="393.90" y2="318.50" stroke="#111" stroke-width="1.2" stroke-linecap="butt"/>
<line x1="390.90" y1="315.00" x2="396.90" y2="315.00" stroke="#111" stroke-width="1.2" stroke-linecap="butt"/>
<line x1="390.90" y1="318.50" x2="396.90" y2="318.50" stroke="#111" stroke-width="1.2" stroke-linecap="butt"/>
<line x1="424.10" y1="315.60" x2="424.10" y2="336.90" stroke="#111" stroke-width="1.2" stroke-linecap="butt"/>
<line x1="421.10" y1="315.60" x2="427.10" y2="315.60" stroke="#111" stroke-width="1.2" stroke-linecap="butt"/>
<line x1="421.10" y1="336.90" x2="427.10" y2="336.90" stroke="#111" stroke-width="1.2" stroke-linecap="butt"/>
<line x1="424.10" y1="324.80" x2="424.10" y2="336.90" stroke="#111" stroke-width="1.2" stroke-linecap="butt"/>
<line x1="421.10" y1="324.80" x2="427.10" y2="324.80" stroke="#111" stroke-width="1.2" stroke-linecap="butt"/>
<line x1="421.10" y1="336.90" x2="427.10" y2="336.90" stroke="#111" stroke-width="1.2" stroke-linecap="butt"/>
<line x1="454.40" y1="309.80" x2="454.40" y2="332.50" stroke="#111" stroke-width="1.2" stroke-linecap="butt"/>
<line x1="451.40" y1="309.80" x2="457.40" y2="309.80" stroke="#111" stroke-width="1.2" stroke-linecap="butt"/>
<line x1="451.40" y1="332.50" x2="457.40" y2="332.50" stroke="#111" stroke-width="1.2" stroke-linecap="butt"/>
<line x1="454.40" y1="356.00" x2="454.40" y2="375.60" stroke="#111" stroke-width="1.2" stroke-linecap="butt"/>
<line x1="451.40" y1="356.00" x2="457.40" y2="356.00" stroke="#111" stroke-width="1.2" stroke-linecap="butt"/>
<line x1="451.40" y1="375.60" x2="457.40" y2="375.60" stroke="#111" stroke-width="1.2" stroke-linecap="butt"/>
<line x1="484.60" y1="295.00" x2="484.60" y2="315.60" stroke="#111" stroke-width="1.2" stroke-linecap="butt"/>
<line x1="481.60" y1="295.00" x2="487.60" y2="295.00" stroke="#111" stroke-width="1.2" stroke-linecap="butt"/>
<line x1="481.60" y1="315.60" x2="487.60" y2="315.60" stroke="#111" stroke-width="1.2" stroke-linecap="butt"/>
<line x1="484.60" y1="375.00" x2="484.60" y2="418.70" stroke="#111" stroke-width="1.2" stroke-linecap="butt"/>
<line x1="481.60" y1="375.00" x2="487.60" y2="375.00" stroke="#111" stroke-width="1.2" stroke-linecap="butt"/>
<line x1="481.60" y1="418.70" x2="487.60" y2="418.70" stroke="#111" stroke-width="1.2" stroke-linecap="butt"/>
<line x1="410.00" y1="339.60" x2="410.00" y2="328.50" stroke="#111" stroke-width="1.2" stroke-linecap="butt"/>
<path d="M410.0,325.4 L407.7,330.4 L412.3,330.4 Z" fill="#111"/>
<text x="409.90" y="351.40" font-size="8.1" text-anchor="middle" textLength="28.90" lengthAdjust="spacingAndGlyphs">CL/PBS</text>
<text x="410.30" y="360.30" font-size="8.1" text-anchor="middle" textLength="27.90" lengthAdjust="spacingAndGlyphs">injection</text>
<line x1="492.80" y1="305.80" x2="495.40" y2="305.80" stroke="#111" stroke-width="1.1" stroke-linecap="butt"/>
<line x1="492.80" y1="399.60" x2="495.40" y2="399.60" stroke="#111" stroke-width="1.1" stroke-linecap="butt"/>
<line x1="495.40" y1="305.20" x2="495.40" y2="400.20" stroke="#111" stroke-width="1.1" stroke-linecap="butt"/>
<line x1="495.40" y1="353.50" x2="497.80" y2="353.50" stroke="#111" stroke-width="1.1" stroke-linecap="butt"/>
<text x="502.00" y="358.53" font-size="9.5" font-weight="bold" text-anchor="middle" fill="#111">*</text>
<line x1="384.50" y1="393.40" x2="400.30" y2="393.40" stroke="#9a1c3e" stroke-width="2.0" stroke-linecap="butt"/>
<text x="404.60" y="396.30" font-size="8.2">+/+</text>
<line x1="384.50" y1="405.80" x2="400.30" y2="405.80" stroke="#64a03e" stroke-width="1.6" stroke-linecap="butt"/>
<text x="404.60" y="408.70" font-size="8.2" textLength="68.70" lengthAdjust="spacingAndGlyphs">MRI53426/+ (PBS)</text>
<line x1="384.50" y1="417.30" x2="400.30" y2="417.30" stroke="#88b352" stroke-width="1.7" stroke-dasharray="3,1.5" stroke-linecap="butt"/>
<text x="404.60" y="420.20" font-size="8.2" textLength="62.50" lengthAdjust="spacingAndGlyphs">MRI53426/+ (CL)</text>
<text x="7.50" y="483.60" font-size="11.6" font-weight="bold" fill="#111">C</text>
<text x="57.3" y="482.6" font-size="9.9" fill="#2a2a2a" textLength="192" lengthAdjust="spacingAndGlyphs"><tspan font-style="italic">P. chabaudi</tspan> infection (splenectomized mice)</text>
<text x="16.00" y="500.50" font-size="10" font-weight="bold" fill="#111">i</text>
<line x1="51.30" y1="504.20" x2="51.30" y2="614.80" stroke="#000" stroke-width="1.3" stroke-linecap="butt"/>
<line x1="48.50" y1="614.80" x2="51.30" y2="614.80" stroke="#000" stroke-width="1.1" stroke-linecap="butt"/>
<text x="44.60" y="617.80" font-size="8.3" text-anchor="end">0</text>
<line x1="48.50" y1="602.87" x2="51.30" y2="602.87" stroke="#000" stroke-width="1.1" stroke-linecap="butt"/>
<text x="44.60" y="605.87" font-size="8.3" text-anchor="end">10</text>
<line x1="48.50" y1="590.94" x2="51.30" y2="590.94" stroke="#000" stroke-width="1.1" stroke-linecap="butt"/>
<text x="44.60" y="593.94" font-size="8.3" text-anchor="end">20</text>
<line x1="48.50" y1="579.01" x2="51.30" y2="579.01" stroke="#000" stroke-width="1.1" stroke-linecap="butt"/>
<text x="44.60" y="582.01" font-size="8.3" text-anchor="end">30</text>
<line x1="48.50" y1="567.08" x2="51.30" y2="567.08" stroke="#000" stroke-width="1.1" stroke-linecap="butt"/>
<text x="44.60" y="570.08" font-size="8.3" text-anchor="end">40</text>
<line x1="48.50" y1="555.15" x2="51.30" y2="555.15" stroke="#000" stroke-width="1.1" stroke-linecap="butt"/>
<text x="44.60" y="558.15" font-size="8.3" text-anchor="end">50</text>
<line x1="48.50" y1="543.22" x2="51.30" y2="543.22" stroke="#000" stroke-width="1.1" stroke-linecap="butt"/>
<text x="44.60" y="546.22" font-size="8.3" text-anchor="end">60</text>
<line x1="48.50" y1="531.29" x2="51.30" y2="531.29" stroke="#000" stroke-width="1.1" stroke-linecap="butt"/>
<text x="44.60" y="534.29" font-size="8.3" text-anchor="end">70</text>
<line x1="48.50" y1="519.36" x2="51.30" y2="519.36" stroke="#000" stroke-width="1.1" stroke-linecap="butt"/>
<text x="44.60" y="522.36" font-size="8.3" text-anchor="end">80</text>
<line x1="48.50" y1="507.43" x2="51.30" y2="507.43" stroke="#000" stroke-width="1.1" stroke-linecap="butt"/>
<text x="44.60" y="510.43" font-size="8.3" text-anchor="end">90</text>
<text transform="translate(28.60 559.60) rotate(-90)" font-size="9.0" text-anchor="middle" textLength="50.20" lengthAdjust="spacingAndGlyphs">Parasitemia (%)</text>
<line x1="51.30" y1="614.80" x2="252.60" y2="614.80" stroke="#000" stroke-width="1.3" stroke-linecap="butt"/>
<line x1="51.30" y1="614.80" x2="51.30" y2="617.40" stroke="#000" stroke-width="1.1" stroke-linecap="butt"/>
<text x="51.30" y="628.20" font-size="8.3" text-anchor="middle">6</text>
<line x1="80.00" y1="614.80" x2="80.00" y2="617.40" stroke="#000" stroke-width="1.1" stroke-linecap="butt"/>
<text x="80.00" y="628.20" font-size="8.3" text-anchor="middle">7</text>
<line x1="108.70" y1="614.80" x2="108.70" y2="617.40" stroke="#000" stroke-width="1.1" stroke-linecap="butt"/>
<text x="108.70" y="628.20" font-size="8.3" text-anchor="middle">8</text>
<line x1="137.40" y1="614.80" x2="137.40" y2="617.40" stroke="#000" stroke-width="1.1" stroke-linecap="butt"/>
<text x="137.40" y="628.20" font-size="8.3" text-anchor="middle">9</text>
<line x1="166.10" y1="614.80" x2="166.10" y2="617.40" stroke="#000" stroke-width="1.1" stroke-linecap="butt"/>
<text x="166.10" y="628.20" font-size="8.3" text-anchor="middle">10</text>
<line x1="194.80" y1="614.80" x2="194.80" y2="617.40" stroke="#000" stroke-width="1.1" stroke-linecap="butt"/>
<text x="194.80" y="628.20" font-size="8.3" text-anchor="middle">11</text>
<line x1="223.50" y1="614.80" x2="223.50" y2="617.40" stroke="#000" stroke-width="1.1" stroke-linecap="butt"/>
<text x="223.50" y="628.20" font-size="8.3" text-anchor="middle">12</text>
<line x1="252.20" y1="614.80" x2="252.20" y2="617.40" stroke="#000" stroke-width="1.1" stroke-linecap="butt"/>
<text x="252.20" y="628.20" font-size="8.3" text-anchor="middle">13</text>
<text x="153.30" y="642.60" font-size="9.0" font-weight="bold" text-anchor="middle" textLength="63.50" lengthAdjust="spacingAndGlyphs" fill="#333">Days since infection</text>
<polyline points="80.00,614.20 108.70,608.50 137.40,598.30 166.10,572.20 194.80,539.80 223.50,555.20" fill="none" stroke="#26395f" stroke-width="1.7" stroke-linejoin="miter"/>
<polyline points="80.00,612.60 108.70,600.00 137.40,566.30 166.10,525.60 194.80,524.20" fill="none" stroke="#9a1c3e" stroke-width="1.8" stroke-linejoin="miter"/>
<line x1="80.00" y1="611.20" x2="80.00" y2="613.80" stroke="#111" stroke-width="1.2" stroke-linecap="butt"/>
<line x1="77.20" y1="611.20" x2="82.80" y2="611.20" stroke="#111" stroke-width="1.2" stroke-linecap="butt"/>
<line x1="77.20" y1="613.80" x2="82.80" y2="613.80" stroke="#111" stroke-width="1.2" stroke-linecap="butt"/>
<line x1="108.70" y1="598.80" x2="108.70" y2="601.40" stroke="#111" stroke-width="1.2" stroke-linecap="butt"/>
<line x1="105.90" y1="598.80" x2="111.50" y2="598.80" stroke="#111" stroke-width="1.2" stroke-linecap="butt"/>
<line x1="105.90" y1="601.40" x2="111.50" y2="601.40" stroke="#111" stroke-width="1.2" stroke-linecap="butt"/>
<line x1="137.40" y1="562.50" x2="137.40" y2="570.00" stroke="#111" stroke-width="1.2" stroke-linecap="butt"/>
<line x1="134.60" y1="562.50" x2="140.20" y2="562.50" stroke="#111" stroke-width="1.2" stroke-linecap="butt"/>
<line x1="134.60" y1="570.00" x2="140.20" y2="570.00" stroke="#111" stroke-width="1.2" stroke-linecap="butt"/>
<line x1="166.10" y1="523.70" x2="166.10" y2="527.50" stroke="#111" stroke-width="1.2" stroke-linecap="butt"/>
<line x1="163.30" y1="523.70" x2="168.90" y2="523.70" stroke="#111" stroke-width="1.2" stroke-linecap="butt"/>
<line x1="163.30" y1="527.50" x2="168.90" y2="527.50" stroke="#111" stroke-width="1.2" stroke-linecap="butt"/>
<line x1="194.80" y1="520.20" x2="194.80" y2="528.30" stroke="#111" stroke-width="1.2" stroke-linecap="butt"/>
<line x1="192.00" y1="520.20" x2="197.60" y2="520.20" stroke="#111" stroke-width="1.2" stroke-linecap="butt"/>
<line x1="192.00" y1="528.30" x2="197.60" y2="528.30" stroke="#111" stroke-width="1.2" stroke-linecap="butt"/>
<line x1="108.70" y1="607.20" x2="108.70" y2="609.80" stroke="#111" stroke-width="1.2" stroke-linecap="butt"/>
<line x1="105.90" y1="607.20" x2="111.50" y2="607.20" stroke="#111" stroke-width="1.2" stroke-linecap="butt"/>
<line x1="105.90" y1="609.80" x2="111.50" y2="609.80" stroke="#111" stroke-width="1.2" stroke-linecap="butt"/>
<line x1="137.40" y1="595.60" x2="137.40" y2="601.50" stroke="#111" stroke-width="1.2" stroke-linecap="butt"/>
<line x1="134.60" y1="595.60" x2="140.20" y2="595.60" stroke="#111" stroke-width="1.2" stroke-linecap="butt"/>
<line x1="134.60" y1="601.50" x2="140.20" y2="601.50" stroke="#111" stroke-width="1.2" stroke-linecap="butt"/>
<line x1="166.10" y1="565.40" x2="166.10" y2="577.50" stroke="#111" stroke-width="1.2" stroke-linecap="butt"/>
<line x1="163.30" y1="565.40" x2="168.90" y2="565.40" stroke="#111" stroke-width="1.2" stroke-linecap="butt"/>
<line x1="163.30" y1="577.50" x2="168.90" y2="577.50" stroke="#111" stroke-width="1.2" stroke-linecap="butt"/>
<line x1="194.80" y1="534.20" x2="194.80" y2="545.20" stroke="#111" stroke-width="1.2" stroke-linecap="butt"/>
<line x1="192.00" y1="534.20" x2="197.60" y2="534.20" stroke="#111" stroke-width="1.2" stroke-linecap="butt"/>
<line x1="192.00" y1="545.20" x2="197.60" y2="545.20" stroke="#111" stroke-width="1.2" stroke-linecap="butt"/>
<line x1="223.50" y1="548.50" x2="223.50" y2="562.00" stroke="#111" stroke-width="1.2" stroke-linecap="butt"/>
<line x1="220.70" y1="548.50" x2="226.30" y2="548.50" stroke="#111" stroke-width="1.2" stroke-linecap="butt"/>
<line x1="220.70" y1="562.00" x2="226.30" y2="562.00" stroke="#111" stroke-width="1.2" stroke-linecap="butt"/>
<text x="166.00" y="563.12" font-size="9.5" font-weight="bold" text-anchor="middle" fill="#111">***</text>
<text x="137.50" y="594.02" font-size="9.5" font-weight="bold" text-anchor="middle" fill="#111">***</text>
<text x="108.30" y="610.02" font-size="9.5" font-weight="bold" text-anchor="middle" fill="#111">***</text>
<line x1="184.00" y1="591.00" x2="198.00" y2="591.00" stroke="#9a1c3e" stroke-width="2.0" stroke-linecap="butt"/>
<text x="202.00" y="593.90" font-size="8.1">+/+</text>
<line x1="184.00" y1="602.90" x2="198.00" y2="602.90" stroke="#26395f" stroke-width="1.9" stroke-linecap="butt"/>
<text x="202.00" y="605.80" font-size="8.1" textLength="44.50" lengthAdjust="spacingAndGlyphs">MRI26194/+</text>
<text x="263.50" y="500.50" font-size="10" font-weight="bold" fill="#111">ii</text>
<line x1="307.80" y1="507.70" x2="307.80" y2="615.20" stroke="#000" stroke-width="1.3" stroke-linecap="butt"/>
<line x1="305.00" y1="615.20" x2="307.80" y2="615.20" stroke="#000" stroke-width="1.1" stroke-linecap="butt"/>
<text x="301.60" y="618.20" font-size="8.3" text-anchor="end">0</text>
<line x1="305.00" y1="597.70" x2="307.80" y2="597.70" stroke="#000" stroke-width="1.1" stroke-linecap="butt"/>
<text x="301.60" y="600.70" font-size="8.3" text-anchor="end">20</text>
<line x1="305.00" y1="580.20" x2="307.80" y2="580.20" stroke="#000" stroke-width="1.1" stroke-linecap="butt"/>
<text x="301.60" y="583.20" font-size="8.3" text-anchor="end">40</text>
<line x1="305.00" y1="562.70" x2="307.80" y2="562.70" stroke="#000" stroke-width="1.1" stroke-linecap="butt"/>
<text x="301.60" y="565.70" font-size="8.3" text-anchor="end">60</text>
<line x1="305.00" y1="545.20" x2="307.80" y2="545.20" stroke="#000" stroke-width="1.1" stroke-linecap="butt"/>
<text x="301.60" y="548.20" font-size="8.3" text-anchor="end">80</text>
<line x1="305.00" y1="527.70" x2="307.80" y2="527.70" stroke="#000" stroke-width="1.1" stroke-linecap="butt"/>
<text x="301.60" y="530.70" font-size="8.3" text-anchor="end">100</text>
<line x1="305.00" y1="510.20" x2="307.80" y2="510.20" stroke="#000" stroke-width="1.1" stroke-linecap="butt"/>
<text x="301.60" y="513.20" font-size="8.3" text-anchor="end">120</text>
<text transform="translate(281.20 560.20) rotate(-90)" font-size="9.0" text-anchor="middle" textLength="63.50" lengthAdjust="spacingAndGlyphs">Surviving mice (%)</text>
<line x1="307.80" y1="615.20" x2="510.60" y2="615.20" stroke="#000" stroke-width="1.3" stroke-linecap="butt"/>
<line x1="307.90" y1="615.20" x2="307.90" y2="617.80" stroke="#000" stroke-width="1.1" stroke-linecap="butt"/>
<text x="307.90" y="628.60" font-size="8.3" text-anchor="middle">6</text>
<line x1="336.40" y1="615.20" x2="336.40" y2="617.80" stroke="#000" stroke-width="1.1" stroke-linecap="butt"/>
<text x="336.40" y="628.60" font-size="8.3" text-anchor="middle">7</text>
<line x1="364.90" y1="615.20" x2="364.90" y2="617.80" stroke="#000" stroke-width="1.1" stroke-linecap="butt"/>
<text x="364.90" y="628.60" font-size="8.3" text-anchor="middle">8</text>
<line x1="393.40" y1="615.20" x2="393.40" y2="617.80" stroke="#000" stroke-width="1.1" stroke-linecap="butt"/>
<text x="393.40" y="628.60" font-size="8.3" text-anchor="middle">9</text>
<line x1="421.90" y1="615.20" x2="421.90" y2="617.80" stroke="#000" stroke-width="1.1" stroke-linecap="butt"/>
<text x="421.90" y="628.60" font-size="8.3" text-anchor="middle">10</text>
<line x1="450.40" y1="615.20" x2="450.40" y2="617.80" stroke="#000" stroke-width="1.1" stroke-linecap="butt"/>
<text x="450.40" y="628.60" font-size="8.3" text-anchor="middle">11</text>
<line x1="478.90" y1="615.20" x2="478.90" y2="617.80" stroke="#000" stroke-width="1.1" stroke-linecap="butt"/>
<text x="478.90" y="628.60" font-size="8.3" text-anchor="middle">12</text>
<line x1="507.40" y1="615.20" x2="507.40" y2="617.80" stroke="#000" stroke-width="1.1" stroke-linecap="butt"/>
<text x="507.40" y="628.60" font-size="8.3" text-anchor="middle">13</text>
<text x="409.20" y="642.80" font-size="9.0" font-weight="bold" text-anchor="middle" textLength="61.30" lengthAdjust="spacingAndGlyphs" fill="#333">Days since infection</text>
<polyline points="307.80,527.70 478.90,527.70 478.90,571.45 507.40,571.45 507.40,615.20" fill="none" stroke="#26395f" stroke-width="1.8" stroke-linejoin="miter"/>
<polyline points="307.80,527.70 450.40,527.70 450.40,593.33 478.90,593.33 478.90,615.20 508.20,615.20" fill="none" stroke="#9a1c3e" stroke-width="2.0" stroke-linejoin="miter"/>
<text x="472.20" y="612.40" font-size="8" text-anchor="middle">NS</text>
<line x1="319.20" y1="591.80" x2="335.40" y2="591.80" stroke="#9a1c3e" stroke-width="2.0" stroke-linecap="butt"/>
<text x="339.40" y="594.70" font-size="8.1">+/+</text>
<line x1="319.20" y1="603.10" x2="335.40" y2="603.10" stroke="#26395f" stroke-width="1.9" stroke-linecap="butt"/>
<text x="338.60" y="606.00" font-size="8.1" textLength="45.30" lengthAdjust="spacingAndGlyphs">MRI26194/+</text>
<rect x="0.00" y="0.00" width="520.00" height="1.50" fill="#000"/>
<rect x="0.00" y="0.00" width="1.50" height="653.00" fill="#000"/>
<rect x="518.00" y="0.00" width="2.00" height="653.00" fill="#000"/>
<rect x="0.00" y="651.40" width="520.00" height="1.60" fill="#000"/>
</svg>
</body></html>
